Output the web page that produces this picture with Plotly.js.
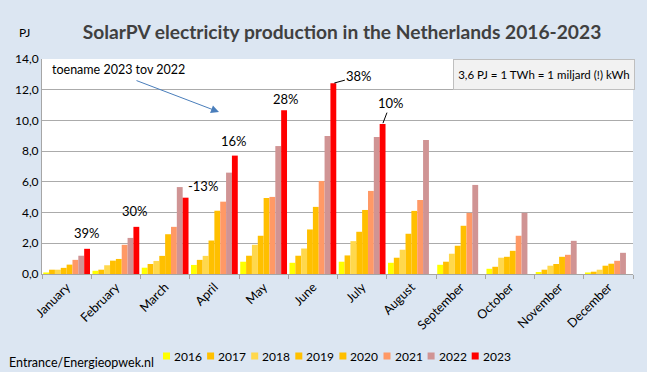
<!DOCTYPE html>
<html>
<head>
<meta charset="utf-8">
<script src="https://cdn.plot.ly/plotly-3.0.1.min.js"></script>
<style>html,body{margin:0;padding:0;background:#dce6f2;}#chart{width:647px;height:372px;}</style>
</head>
<body>
<div id="chart"></div>
<script>
// ---- data ----
var months = ['January','February','March','April','May','June','July','August','September','October','November','December'];
var years = ['2016','2017','2018','2019','2020','2021','2022','2023'];
var v2016 = [0.10, 0.21, 0.41, 0.59, 0.80, 0.73, 0.80, 0.73, 0.60, 0.34, 0.13, 0.10];
var v2017 = [0.28, 0.28, 0.65, 0.92, 1.19, 1.19, 1.21, 1.06, 0.80, 0.47, 0.28, 0.15];
var v2018 = [0.28, 0.57, 0.85, 1.18, 1.90, 1.66, 2.14, 1.58, 1.32, 1.06, 0.54, 0.28];
var v2019 = [0.40, 0.87, 1.18, 2.18, 2.49, 2.90, 2.75, 2.62, 1.84, 1.12, 0.65, 0.54];
var v2020 = [0.61, 0.98, 2.59, 4.12, 4.95, 4.37, 4.17, 4.11, 3.14, 1.51, 1.12, 0.67];
var v2021 = [0.92, 1.90, 3.07, 4.71, 5.02, 6.06, 5.41, 4.82, 3.98, 2.49, 1.25, 0.86];
var v2022 = [1.19, 2.35, 5.66, 6.60, 8.33, 8.98, 8.92, 8.72, 5.80, 3.98, 2.16, 1.38];
var v2023 = [1.64, 3.07, 4.97, 7.71, 10.67, 12.42, 9.76, null, null, null, null, null];
var growthLabels = ['39%', '30%', '-13%', '16%', '28%', '38%', '10%'];
var yTicks = [0, 2, 4, 6, 8, 10, 12, 14];

var series = [v2016, v2017, v2018, v2019, v2020, v2021, v2022, v2023];

// ---- styles / layout config ----
var colors = ['#FFFF00', '#FFC000', '#FFD84D', '#FFC000', '#FFBF00', '#FF9966', '#D09494', '#FF0000'];
var FONT = 'Lato, "Open Sans", sans-serif';
var W = 647, H = 372;
var M = {l: 42, r: 14, t: 59, b: 98};
var BARGAP = 0.05;
var plotW = W - M.l - M.r;
var catPx = plotW / months.length;
var barPx = catPx * (1 - BARGAP) / years.length;
var lastBarShift = (years.length / 2 - 0.5) * barPx;   // offset of 2023 bar from category centre

// label placement (pixels relative to top centre of 2023 bar)
var labelPlace = [
  {dx: 0, dy: -16, arrow: false, xa: 'center'},
  {dx: -1, dy: -16, arrow: false, xa: 'center'},
  {dx: 0, dy: -12, arrow: false, xa: 'left'},
  {dx: -1, dy: -15, arrow: false, xa: 'center'},
  {dx: 2, dy: -11, arrow: false, xa: 'center'},
  {dx: 26, dy: -7, arrow: true, xa: 'center'},
  {dx: 8, dy: -21, arrow: true, xa: 'center'}
];

var traces = years.map(function (yr, k) {
  return {
    type: 'bar',
    name: yr,
    x: months,
    y: series[k],
    marker: {color: colors[k], line: {width: 0}},
    hoverinfo: 'skip',
    showlegend: false
  };
});

var annotations = [];
growthLabels.forEach(function (txt, i) {
  var p = labelPlace[i];
  var a = {
    xref: 'x', yref: 'y', x: months[i], y: v2023[i],
    text: txt, font: {family: FONT, size: 13, color: '#000000'}
  };
  if (p.arrow) {
    a.showarrow = true; a.arrowhead = 0; a.arrowwidth = 1; a.arrowcolor = '#000000';
    a.axref = 'pixel'; a.ayref = 'pixel'; a.ax = p.dx; a.ay = p.dy; a.xshift = lastBarShift;
    a.standoff = 1;
  } else {
    a.showarrow = false; a.xshift = lastBarShift + p.dx; a.yshift = -p.dy;
    a.xanchor = p.xa; a.yanchor = 'middle';
  }
  annotations.push(a);
});

function px2paperX(px) { return (px - M.l) / plotW; }
function px2paperY(py) { return (H - M.b - py) / (H - M.t - M.b); }

// note text + arrow
annotations.push({
  xref: 'paper', yref: 'paper', x: px2paperX(50), y: px2paperY(70), xanchor: 'left', yanchor: 'middle',
  text: 'toename 2023 tov 2022', showarrow: false, font: {family: FONT, size: 12.5, color: '#000000'}
});
annotations.push({
  xref: 'paper', yref: 'paper', x: px2paperX(219), y: px2paperY(112),
  axref: 'pixel', ayref: 'pixel', ax: -84, ay: -32, text: '', showarrow: true,
  arrowhead: 2, arrowsize: 1.6, arrowwidth: 1, arrowcolor: '#4A7EBB'
});
// conversion box
annotations.push({
  xref: 'paper', yref: 'paper', x: px2paperX(544), y: px2paperY(74), xanchor: 'center', yanchor: 'middle',
  text: '3,6 PJ = 1 TWh = 1 miljard (!) kWh', showarrow: false,
  font: {family: FONT, size: 11.5, color: '#000000'},
  bgcolor: '#F2F2F2', bordercolor: '#BFBFBF', borderwidth: 1, width: 178, height: 27
});
// unit label
annotations.push({
  xref: 'paper', yref: 'paper', x: px2paperX(17), y: px2paperY(32), xanchor: 'left', yanchor: 'middle',
  text: 'PJ', showarrow: false, font: {family: FONT, size: 12, color: '#000000'}
});
// source
annotations.push({
  xref: 'paper', yref: 'paper', x: px2paperX(7), y: px2paperY(362), xanchor: 'left', yanchor: 'middle',
  text: 'Entrance/Energieopwek.nl', showarrow: false, font: {family: FONT, size: 12.5, color: '#000000'}
});

// custom legend (squares + year text), laid out in pixels
var legStart = 163, legStep = 44.1, legY = 356, sq = 7;
var shapes = [];
years.forEach(function (yr, k) {
  var x0 = legStart + k * legStep;
  shapes.push({
    type: 'rect', xref: 'paper', yref: 'paper',
    x0: px2paperX(x0), x1: px2paperX(x0 + sq), y0: px2paperY(legY + sq / 2), y1: px2paperY(legY - sq / 2),
    fillcolor: colors[k], line: {width: 0}
  });
  annotations.push({
    xref: 'paper', yref: 'paper', x: px2paperX(x0 + sq + 2), y: px2paperY(legY), xanchor: 'left', yanchor: 'middle',
    text: yr, showarrow: false, font: {family: FONT, size: 12, color: '#000000'}
  });
});

var layout = {
  width: W, height: H,
  margin: M,
  paper_bgcolor: '#DCE6F2',
  plot_bgcolor: '#FFFFFF',
  separators: ',.',
  font: {family: FONT, size: 12, color: '#000000'},
  title: {
    text: 'SolarPV electricity production in the Netherlands 2016-2023',
    font: {family: FONT, size: 19.2, color: '#404040', weight: 'bold'},
    x: 342 / W, xanchor: 'center', y: 1 - 32 / H, yanchor: 'middle'
  },
  barmode: 'group',
  bargap: BARGAP,
  bargroupgap: 0,
  showlegend: false,
  xaxis: {
    type: 'category',
    tickangle: -45,
    ticks: 'outside', tickson: 'boundaries', ticklen: 4, tickcolor: '#A6A6A6',
    showline: true, linecolor: '#A6A6A6', linewidth: 1,
    tickfont: {family: FONT, size: 12.5, color: '#000000'},
    showgrid: false
  },
  yaxis: {
    range: [0, 14],
    tickvals: yTicks,
    tickformat: '.1f',
    showgrid: true, gridcolor: '#ABABAB', gridwidth: 1,
    showline: true, linecolor: '#A6A6A6', linewidth: 1,
    zeroline: false,
    ticks: '',
    tickfont: {family: FONT, size: 12, color: '#000000'}
  },
  annotations: annotations,
  shapes: shapes
};

Plotly.newPlot('chart', traces, layout, {displayModeBar: false, staticPlot: true});
</script>
</body>
</html>
